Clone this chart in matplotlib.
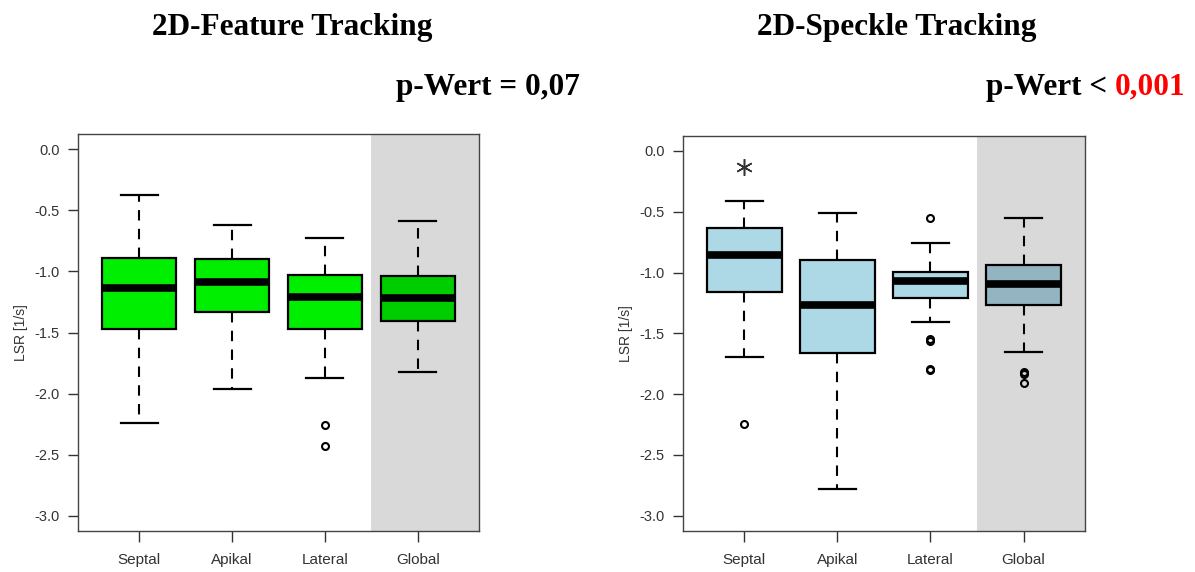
import matplotlib
matplotlib.use('Agg')
import matplotlib.pyplot as plt

categories = ['Septal', 'Apikal', 'Lateral', 'Global']

# 2D-Feature Tracking
ft_whishi = [-0.374, -0.617, -0.723, -0.587]
ft_q3 = [-0.887, -0.895, -1.032, -1.040]
ft_med = [-1.138, -1.084, -1.207, -1.218]
ft_q1 = [-1.474, -1.330, -1.474, -1.409]
ft_whislo = [-2.239, -1.966, -1.876, -1.821]
ft_fliers = [[], [], [-2.258, -2.430], []]

# 2D-Speckle Tracking
st_whishi = [-0.415, -0.508, -0.761, -0.555]
st_q3 = [-0.635, -0.896, -0.997, -0.942]
st_med = [-0.857, -1.264, -1.066, -1.096]
st_q1 = [-1.159, -1.662, -1.212, -1.264]
st_whislo = [-1.698, -2.780, -1.409, -1.651]
st_fliers = [[-2.242], [], [-0.549, -1.547, -1.566, -1.794, -1.800], [-1.816, -1.835, -1.909]]
st_star = -0.13

ft_colors = ['#00EE00', '#00EE00', '#00EE00', '#00CD00']
st_colors = ['#ADD8E6', '#ADD8E6', '#ADD8E6', '#93B5C1']

plt.rcParams['axes.unicode_minus'] = False
plt.rcParams['font.family'] = ['Liberation Sans', 'DejaVu Sans']


def make_stats(whishi, q3, med, q1, whislo, fliers):
    stats = []
    for i in range(len(categories)):
        stats.append({'whishi': whishi[i], 'q3': q3[i], 'med': med[i], 'q1': q1[i],
                      'whislo': whislo[i], 'fliers': fliers[i], 'label': categories[i]})
    return stats


def draw_panel(ax, stats, colors):
    ax.axvspan(3.5, 5, color='#D9D9D9', zorder=0, lw=0)
    bp = ax.bxp(stats, positions=[1, 2, 3, 4], widths=0.8, patch_artist=True,
                showfliers=True,
                boxprops=dict(lw=1.6, edgecolor='black'),
                medianprops=dict(color='black', lw=5.5, solid_capstyle='butt'),
                whiskerprops=dict(color='black', lw=1.5, linestyle=(0, (5, 4))),
                capprops=dict(color='black', lw=1.6),
                capwidths=0.4,
                flierprops=dict(marker='o', markersize=5, markerfacecolor='none',
                                markeredgecolor='black', markeredgewidth=1.5))
    for patch, c in zip(bp['boxes'], colors):
        patch.set_facecolor(c)
    ax.set_xlim(0.34, 4.66)
    ax.set_ylim(-3.125, 0.125)
    ax.set_yticks([0.0, -0.5, -1.0, -1.5, -2.0, -2.5, -3.0])
    ax.set_yticklabels(['0.0', '-0.5', '-1.0', '-1.5', '-2.0', '-2.5', '-3.0'])
    ax.set_xticks([1, 2, 3, 4])
    ax.set_xticklabels(categories)
    ax.tick_params(axis='y', length=7, width=1, labelsize=10.5, colors='#333333', pad=6)
    ax.tick_params(axis='x', length=8, width=1, labelsize=11, colors='#333333', pad=8)
    ax.set_ylabel('LSR [1/s]', fontsize=10, color='#333333', labelpad=5)
    for s in ax.spines.values():
        s.set_linewidth(1.0)
        s.set_color('#444444')


fig = plt.figure(figsize=(11.95, 5.72), dpi=100)
ax1 = fig.add_axes([0.0653, 0.0717, 0.3355, 0.694])
ax2 = fig.add_axes([0.5715, 0.0717, 0.3364, 0.691])

draw_panel(ax1, make_stats(ft_whishi, ft_q3, ft_med, ft_q1, ft_whislo, ft_fliers), ft_colors)
draw_panel(ax2, make_stats(st_whishi, st_q3, st_med, st_q1, st_whislo, st_fliers), st_colors)
ax2.plot([1], [st_star], marker=(6, 2, 0), markersize=12, markeredgewidth=1.1,
         color='#333333', linestyle='none')

W, H = 1195, 572
serif = dict(family='Liberation Serif', fontweight='bold')
fs = 22.5
fig.text(292 / W, 1 - 28 / H, '2D-Feature Tracking', ha='center', va='center', fontsize=fs, **serif)
fig.text(897 / W, 1 - 28 / H, '2D-Speckle Tracking', ha='center', va='center', fontsize=fs, **serif)
fig.text(580 / W, 1 - 87 / H, 'p-Wert = 0,07', ha='right', va='center', fontsize=fs, **serif)

red = fig.text(1185 / W, 1 - 87 / H, '0,001', ha='right', va='center', fontsize=fs,
               color='#FF0000', **serif)
renderer = fig.canvas.get_renderer()
bb = red.get_window_extent(renderer)
fig.text((bb.x0 - 7) / W, 1 - 87 / H, 'p-Wert <', ha='right', va='center', fontsize=fs, **serif)

fig.savefig('out.png', dpi=100)
